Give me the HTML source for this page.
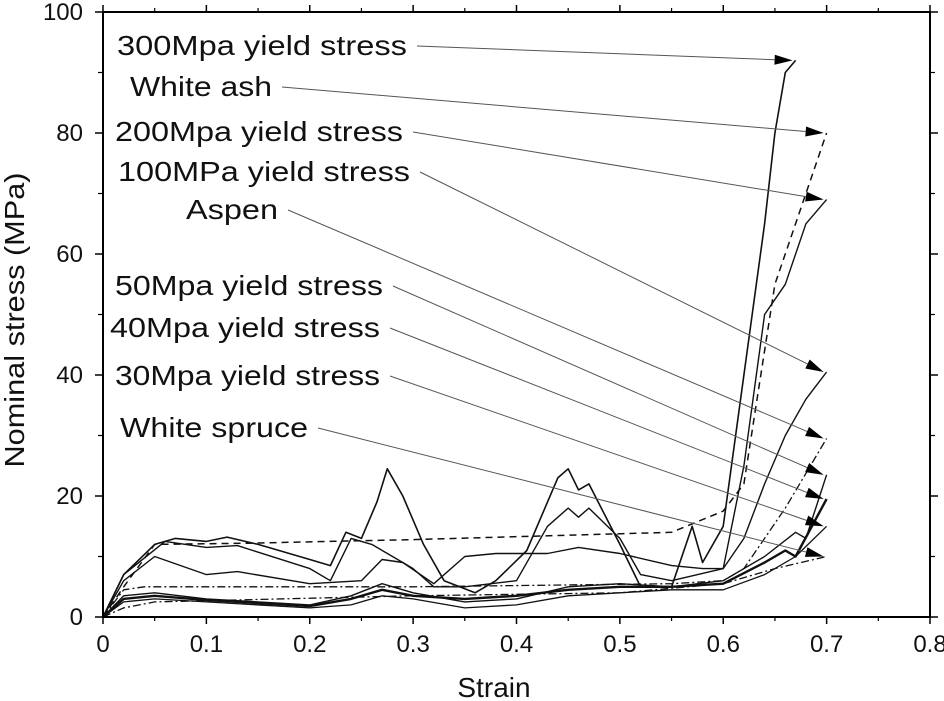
<!DOCTYPE html>
<html><head><meta charset="utf-8"><style>
body{margin:0;background:#fff;}
svg{display:block;font-family:"Liberation Sans",Arial,sans-serif;}
</style></head><body>
<svg id="chart" width="944" height="701" xmlns="http://www.w3.org/2000/svg">
<g id="grid"></g><g id="series"></g><g id="annos"></g><g id="axes"></g>
</svg>
<script>
const xTicks=[0,0.1,0.2,0.3,0.4,0.5,0.6,0.7,0.8];
const xTickLabels=["0","0.1","0.2","0.3","0.4","0.5","0.6","0.7","0.8"];
const yTicks=[0,20,40,60,80,100];
const yTickLabels=["0","20","40","60","80","100"];
const s300=[[0,0],[0.02,7],[0.05,12],[0.07,13],[0.1,12.5],[0.12,13.2],[0.15,12],[0.2,9.5],[0.22,8.5],[0.235,14],[0.25,13],[0.265,19],[0.275,24.5],[0.29,20],[0.31,12],[0.33,6],[0.36,4],[0.38,6],[0.41,11],[0.44,23],[0.45,24.5],[0.46,21],[0.47,22],[0.5,12],[0.52,5],[0.55,5],[0.57,15],[0.58,9],[0.6,15],[0.62,40],[0.64,65],[0.65,80],[0.66,90],[0.67,92]];
const sAsh=[[0,0],[0.02,5],[0.05,12],[0.14,12.2],[0.3,12.8],[0.55,14],[0.6,17.5],[0.62,22],[0.65,55],[0.68,70],[0.7,80]];
const s200=[[0,0],[0.02,7],[0.06,12.5],[0.1,11.5],[0.13,11.8],[0.2,8],[0.22,6],[0.24,13],[0.26,12],[0.28,10],[0.3,8],[0.32,5],[0.35,5],[0.4,6],[0.43,15],[0.45,18],[0.46,16.5],[0.47,18],[0.5,13],[0.52,7],[0.55,6],[0.6,8],[0.62,25],[0.64,50],[0.66,55],[0.68,65],[0.7,69]];
const s100=[[0,0],[0.02,6],[0.05,10],[0.1,7],[0.13,7.5],[0.2,5.5],[0.25,6],[0.27,9.5],[0.29,9],[0.32,5.5],[0.35,10],[0.38,10.5],[0.43,10.5],[0.46,11.5],[0.5,10.5],[0.55,8.5],[0.58,8],[0.6,8],[0.62,13],[0.64,22],[0.66,30],[0.68,36],[0.7,40.5]];
const sAspen=[[0,0],[0.02,4.5],[0.04,5],[0.3,5],[0.55,5.5],[0.6,6],[0.62,8],[0.66,18],[0.7,29.5]];
const s50=[[0,0],[0.02,3.5],[0.05,4],[0.1,3],[0.2,2],[0.24,3.5],[0.27,5.5],[0.3,4],[0.35,2.5],[0.4,3],[0.45,5],[0.5,5.5],[0.55,5],[0.6,6],[0.64,10],[0.67,14],[0.68,13],[0.7,23.5]];
const s40=[[0,0],[0.02,3],[0.05,3.5],[0.1,2.8],[0.2,1.8],[0.24,3],[0.27,4.5],[0.3,3.5],[0.35,3],[0.4,3.5],[0.45,4.5],[0.5,5],[0.55,5],[0.6,5.5],[0.64,9],[0.66,11],[0.67,10],[0.7,19.5]];
const s30=[[0,0],[0.02,2.5],[0.05,3],[0.1,2.5],[0.2,1.5],[0.24,2],[0.27,3.5],[0.3,3],[0.35,1.5],[0.4,2],[0.45,3.5],[0.5,4],[0.55,4.5],[0.6,4.5],[0.64,7],[0.67,10],[0.7,15]];
const sSpruce=[[0,0],[0.02,1.5],[0.05,2.5],[0.3,3.5],[0.5,4],[0.6,5.5],[0.65,8],[0.7,10]];
const seriesList=[s300,sAsh,s200,s100,sAspen,s50,s40,s30,sSpruce];
const seriesNames=["yield-300mpa-line","white-ash-line","yield-200mpa-line","yield-100mpa-line","aspen-line","yield-50mpa-line","yield-40mpa-line","yield-30mpa-line","white-spruce-line"];
const seriesDash=["","7,5","","","8,3,2,3","","","","8,3,2,3"];
const seriesWidth=[1.6,1.5,1.4,1.4,1.3,1.4,2.4,1.3,1.3];
const labels=["300Mpa yield stress","White ash","200Mpa yield stress","100MPa yield stress","Aspen","50Mpa yield stress","40Mpa yield stress","30Mpa yield stress","White spruce"];
const labelPos=[[117,55],[130,96],[115,141],[118,181],[186,219],[115,295],[110,337],[115,385],[120,437]];
const labelW=[290,142,288,292,92,268,270,265,188];

const X0=103,X1=930,Y0=617,Y1=12;
const xs=v=>X0+(v/0.8)*(X1-X0);
const ys=v=>Y0-(v/100)*(Y0-Y1);
const NS="http://www.w3.org/2000/svg";
function mk(t,p,a){const e=document.createElementNS(NS,t);for(const k in a)e.setAttribute(k,a[k]);p.appendChild(e);return e;}
const ser=document.getElementById('series'),ax=document.getElementById('axes'),an=document.getElementById('annos');
seriesList.forEach((d,i)=>{
 const el=mk('polyline',ser,{points:d.map(p=>xs(p[0]).toFixed(1)+','+ys(p[1]).toFixed(1)).join(' '),fill:'none',stroke:'#111','stroke-width':seriesWidth[i],'stroke-dasharray':seriesDash[i],'stroke-linejoin':'round'});
 
 
});
labels.forEach((t,i)=>{
 const tx=mk('text',an,{x:labelPos[i][0],y:labelPos[i][1],'font-size':28,fill:'#111',textLength:labelW[i],lengthAdjust:'spacingAndGlyphs'});
 tx.textContent=t;
 
 
 const w=labelW[i];
 const d=seriesList[i],e=d[d.length-1];
 const sx=labelPos[i][0]+w+10,sy=labelPos[i][1]-9;
 const ex=xs(e[0])-3,ey=ys(e[1]);
 const ang=Math.atan2(ey-sy,ex-sx);
 const L=18,W=5;
 const bx=ex-L*Math.cos(ang),by=ey-L*Math.sin(ang);
 const ln=mk('line',an,{x1:sx,y1:sy,x2:bx,y2:by,stroke:'#555','stroke-width':1});
 
 
 const hd=mk('polygon',an,{points:`${ex},${ey} ${bx+W*Math.sin(ang)},${by-W*Math.cos(ang)} ${bx-W*Math.sin(ang)},${by+W*Math.cos(ang)}`,fill:'#000'});
 
 
});
const fr=mk('rect',ax,{x:X0,y:Y1,width:X1-X0,height:Y0-Y1,fill:'none',stroke:'#000','stroke-width':2});


xTicks.forEach((v,i)=>{
 const x=xs(v);
 mk('line',ax,{x1:x,y1:Y0,x2:x,y2:Y0+7,stroke:'#000','stroke-width':1.5});
 mk('line',ax,{x1:x,y1:Y1,x2:x,y2:Y1-7,stroke:'#000','stroke-width':1.5});
 if(i<xTicks.length-1){const m=xs(v+0.05);
  mk('line',ax,{x1:m,y1:Y0,x2:m,y2:Y0+4,stroke:'#000','stroke-width':1.2});
  mk('line',ax,{x1:m,y1:Y1,x2:m,y2:Y1-4,stroke:'#000','stroke-width':1.2});}
 const t=mk('text',ax,{x:x,y:Y0+35,'font-size':24,'text-anchor':'middle',fill:'#111'});
 t.textContent=xTickLabels[i];
 
 
});
yTicks.forEach((v,i)=>{
 const y=ys(v);
 mk('line',ax,{x1:X0,y1:y,x2:X0-8,y2:y,stroke:'#000','stroke-width':1.5});
 mk('line',ax,{x1:X1,y1:y,x2:X1+8,y2:y,stroke:'#000','stroke-width':1.5});
 if(i<yTicks.length-1){const m=ys(v+10);
  mk('line',ax,{x1:X0,y1:m,x2:X0-5,y2:m,stroke:'#000','stroke-width':1.2});
  mk('line',ax,{x1:X1,y1:m,x2:X1+5,y2:m,stroke:'#000','stroke-width':1.2});}
 const t=mk('text',ax,{x:X0-20,y:y+8,'font-size':24,'text-anchor':'end',fill:'#111'});
 t.textContent=yTickLabels[i];
 
 
});
const xt=mk('text',ax,{x:494,y:697,'font-size':28,'text-anchor':'middle',fill:'#111'});
xt.textContent='Strain';


const yt=mk('text',ax,{x:0,y:0,'font-size':28,'text-anchor':'middle',fill:'#111',transform:`translate(24,320) rotate(-90)`,textLength:295,lengthAdjust:'spacingAndGlyphs'});
yt.textContent='Nominal stress (MPa)';


</script>
</body></html>
